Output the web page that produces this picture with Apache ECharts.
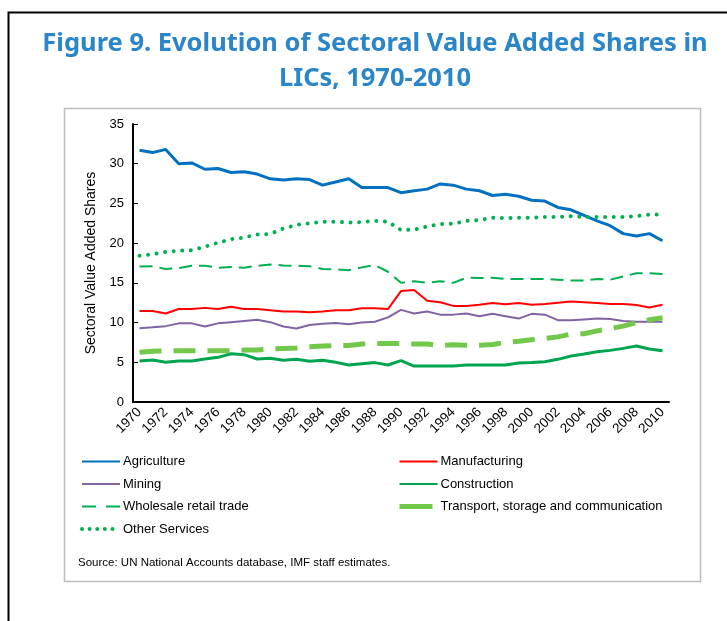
<!DOCTYPE html>
<html>
<head>
<meta charset="utf-8">
<script src="https://cdn.jsdelivr.net/npm/echarts@6/dist/echarts.min.js"></script>
<style>
  html, body { margin: 0; padding: 0; background: #fff; }
  #chart { width: 727px; height: 621px; }
</style>
</head>
<body>
<div id="chart"></div>
<script>
const years = ['1970','1971','1972','1973','1974','1975','1976','1977','1978','1979',
  '1980','1981','1982','1983','1984','1985','1986','1987','1988','1989',
  '1990','1991','1992','1993','1994','1995','1996','1997','1998','1999',
  '2000','2001','2002','2003','2004','2005','2006','2007','2008','2009','2010']

const agriculture = [31.7,31.4,31.8,30.0,30.1,29.3,29.4,28.9,29.0,28.7,
  28.1,27.95,28.1,28.0,27.3,27.7,28.1,27.0,27.0,27.0,
  26.35,26.6,26.8,27.45,27.3,26.8,26.6,26.0,26.15,25.9,
  25.4,25.3,24.5,24.2,23.5,22.8,22.2,21.2,20.9,21.2,20.3]
const manufacturing = [11.45,11.45,11.15,11.7,11.7,11.85,11.7,12.0,11.7,11.7,
  11.55,11.4,11.4,11.3,11.4,11.55,11.55,11.8,11.8,11.7,
  13.97,14.1,12.75,12.55,12.1,12.1,12.25,12.45,12.3,12.45,
  12.25,12.35,12.5,12.65,12.55,12.45,12.35,12.35,12.2,11.9,12.25]
const mining = [9.27,9.4,9.55,9.9,9.9,9.5,9.9,10.05,10.2,10.35,
  10.05,9.5,9.25,9.7,9.85,9.95,9.8,10.0,10.1,10.65,
  11.6,11.15,11.4,11.0,11.0,11.15,10.8,11.1,10.8,10.5,
  11.1,11.0,10.3,10.3,10.4,10.5,10.45,10.2,10.1,10.1,10.1]
const construction = [5.16,5.29,5.0,5.16,5.16,5.41,5.62,6.08,5.96,5.41,
  5.5,5.25,5.37,5.12,5.25,5.0,4.66,4.83,4.96,4.66,
  5.2,4.53,4.53,4.53,4.53,4.66,4.66,4.66,4.66,4.9,
  4.96,5.08,5.37,5.79,6.04,6.33,6.5,6.75,7.04,6.67,6.46]
const wholesale = [17.05,17.1,16.75,16.85,17.15,17.15,16.9,17.0,16.9,17.15,
  17.3,17.2,17.15,17.1,16.75,16.7,16.6,16.95,17.25,16.4,
  15.0,15.2,15.0,15.2,15.0,15.65,15.6,15.65,15.5,15.5,
  15.5,15.5,15.4,15.3,15.3,15.5,15.4,15.8,16.2,16.2,16.1]
const transport = [6.25,6.4,6.45,6.45,6.45,6.45,6.45,6.45,6.55,6.55,
  6.65,6.75,6.8,6.95,7.05,7.1,7.1,7.3,7.35,7.35,
  7.35,7.3,7.3,7.1,7.2,7.15,7.15,7.25,7.5,7.65,
  7.85,8.0,8.2,8.55,8.6,8.95,9.25,9.55,10.0,10.35,10.6]
const otherServices = [18.4,18.6,18.9,19.05,19.1,19.55,20.05,20.5,20.7,21.1,
  21.15,21.85,22.3,22.5,22.7,22.7,22.6,22.65,22.8,22.7,
  21.65,21.7,22.1,22.4,22.45,22.8,22.9,23.2,23.15,23.2,
  23.2,23.3,23.3,23.4,23.3,23.3,23.3,23.3,23.4,23.6,23.6]

const yTicks = { min: 0, max: 35, interval: 5 }

let myChart = echarts.init(document.getElementById('chart'), null, { renderer: 'canvas' })

const font = 'Liberation Sans, Arial, sans-serif'

const line = (name, data, color, width, type, extra) => Object.assign({
  name: name,
  type: 'line',
  data: data,
  symbol: 'none',
  smooth: false,
  animation: false,
  lineStyle: { color: color, width: width, type: type || 'solid' },
  itemStyle: { color: color }
}, extra || {})

const legendBase = {
  orient: 'vertical',
  top: 455,
  padding: 0,
  itemWidth: 38,
  itemHeight: 14,
  itemGap: 9.5,
  itemStyle: { opacity: 0 },
  textStyle: { color: '#000', fontSize: 13, fontFamily: font, padding: [0, 0, 0, -2] }
}

let option = {
  animation: false,
  backgroundColor: '#fff',
  graphic: [
    {
      type: 'rect', silent: true,
      shape: { x: 8.5, y: 12.5, width: 800, height: 700 },
      style: { fill: 'none', stroke: '#000', lineWidth: 2 }
    },
    {
      type: 'text', silent: true,
      x: 375, y: 26,
      style: {
        text: 'Figure 9. Evolution of Sectoral Value Added Shares in\nLICs, 1970-2010',
        align: 'center',
        fill: '#2a85c9',
        fontFamily: 'Noto Sans, sans-serif',
        fontWeight: 'bold',
        fontSize: 25.5,
        lineHeight: 35
      }
    },
    {
      type: 'rect', silent: true,
      shape: { x: 64.5, y: 108.5, width: 636, height: 473 },
      style: { fill: 'none', stroke: '#bdbdbd', lineWidth: 1.5 }
    },
    {
      type: 'text', silent: true,
      left: 78, top: 557,
      style: {
        text: 'Source: UN National Accounts database, IMF staff estimates.',
        fill: '#000', fontSize: 11.5, fontFamily: font
      }
    }
  ],
  grid: {
    left: 133,
    top: 124,
    right: 58,
    bottom: 219,
    containLabel: false
  },
  legend: [
    Object.assign({}, legendBase, {
      left: 80,
      data: [
        'Agriculture',
        'Mining',
        { name: 'Wholesale retail trade', lineStyle: { type: [14, 10] } },
        { name: 'Other Services', lineStyle: { width: 4, type: [0.01, 7.6], cap: 'round' } }
      ]
    }),
    Object.assign({}, legendBase, {
      left: 397,
      data: [
        'Manufacturing',
        'Construction',
        { name: 'Transport, storage and communication', lineStyle: { width: 5, type: [33, 20] } }
      ]
    })
  ],
  xAxis: {
    type: 'category',
    data: years,
    boundaryGap: true,
    axisLine: { lineStyle: { color: '#000', width: 2 } },
    axisTick: { inside: true, length: 5, interval: 0, lineStyle: { color: '#000', width: 1 } },
    axisLabel: {
      interval: 1,
      rotate: 45,
      color: '#000',
      fontSize: 13.5,
      fontFamily: font,
      margin: 8
    },
    splitLine: { show: false }
  },
  yAxis: {
    type: 'value',
    min: yTicks.min,
    max: yTicks.max,
    interval: yTicks.interval,
    name: 'Sectoral Value Added Shares',
    nameLocation: 'middle',
    nameGap: 33,
    nameTextStyle: { color: '#000', fontSize: 14, fontFamily: font },
    axisLine: { show: true, lineStyle: { color: '#000', width: 2 } },
    axisTick: { show: true, inside: true, length: 5, lineStyle: { color: '#000', width: 1 } },
    axisLabel: { color: '#000', fontSize: 13, fontFamily: font, margin: 9 },
    splitLine: { show: false }
  },
  series: [
    line('Agriculture', agriculture, '#0070c0', 3),
    line('Manufacturing', manufacturing, '#ff0000', 2),
    line('Mining', mining, '#8064a2', 2),
    line('Construction', construction, '#00a550', 3),
    line('Wholesale retail trade', wholesale, '#00b050', 2, [13, 7]),
    line('Transport, storage and communication', transport, '#72c84a', 5, [22, 12]),
    line('Other Services', otherServices, '#00b050', 4, [0.01, 8.6], {
      lineStyle: { color: '#00b050', width: 4, type: [0.01, 8.6], cap: 'round' }
    })
  ]
}
myChart.setOption(option)
</script>
</body>
</html>
